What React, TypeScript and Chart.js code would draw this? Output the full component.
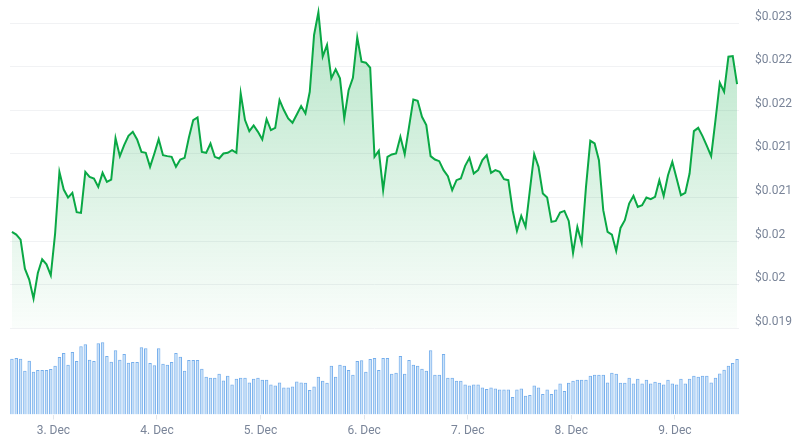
import React, { useEffect, useRef } from "react";
import { Chart, registerables } from "chart.js";

Chart.register(...registerables);

// hours relative to 3 Dec 00:00 of first data point (hourly data)
const startHour = -9.6;
const dayLabels = ["3. Dec", "4. Dec", "5. Dec", "6. Dec", "7. Dec", "8. Dec", "9. Dec"];
const priceTicks = [0.019, 0.0195, 0.02, 0.0205, 0.021, 0.0215, 0.022, 0.0225];
const priceTickLabels = ["$0.019", "$0.02", "$0.02", "$0.021", "$0.021", "$0.022", "$0.022", "$0.023"];

const prices = [
  0.020105, 0.020074, 0.020016, 0.019683, 0.019557, 0.019338, 0.019633, 0.01979, 0.019733, 0.019606,
  0.020085, 0.020794, 0.020591, 0.020499, 0.020553, 0.020331, 0.020323, 0.020794, 0.020737, 0.020718,
  0.020622, 0.020783, 0.02068, 0.020706, 0.021182, 0.020975, 0.021101, 0.021208, 0.021254, 0.021166,
  0.021024, 0.021013, 0.020852, 0.021005, 0.02117, 0.020986, 0.020975, 0.020967, 0.020852, 0.020936,
  0.020955, 0.021189, 0.021389, 0.021419, 0.021024, 0.021013, 0.02112, 0.020967, 0.020948, 0.021005,
  0.021013, 0.021044, 0.021013, 0.021695, 0.021389, 0.021262, 0.021327, 0.021254, 0.021166, 0.0214,
  0.021274, 0.0213, 0.021618, 0.021504, 0.021408, 0.021358, 0.021454, 0.02155, 0.021465, 0.021714,
  0.022366, 0.022626, 0.022117, 0.022251, 0.021868, 0.021971, 0.021868, 0.021408, 0.021733, 0.021875,
  0.022339, 0.022059, 0.022048, 0.02199, 0.020967, 0.021036, 0.020584, 0.020967, 0.020994, 0.021005,
  0.021197, 0.020998, 0.021312, 0.021626, 0.021611, 0.021427, 0.021331, 0.020975, 0.020936, 0.020917,
  0.020814, 0.020745, 0.020584, 0.020699, 0.020718, 0.020863, 0.020955, 0.020775, 0.020814, 0.020929,
  0.020986, 0.020783, 0.020814, 0.020794, 0.02071, 0.020699, 0.020354, 0.020116, 0.020289, 0.020162,
  0.020584, 0.020998, 0.020852, 0.020545, 0.020499, 0.02022, 0.020231, 0.020327, 0.020346, 0.020231,
  0.019863, 0.020162, 0.019978, 0.020622, 0.021151, 0.02112, 0.020929, 0.020354, 0.020105, 0.020074,
  0.019886, 0.020151, 0.020239, 0.02043, 0.020518, 0.020392, 0.020411, 0.020499, 0.02048, 0.020507,
  0.020699, 0.020518, 0.020756, 0.020909, 0.020718, 0.020526, 0.020553, 0.020775, 0.021262, 0.0213,
  0.021205, 0.021093, 0.020975, 0.021389, 0.021818, 0.021714, 0.022117, 0.022124, 0.021802,
];

// volume, millions USD
const volumes = [
  16.7, 16.9, 16.7, 13.1, 16.1, 12.8, 13.3, 13.3, 13.3, 13.6,
  14.6, 17.2, 18.4, 14.9, 18.7, 16.0, 20.4, 21.0, 16.4, 16.0,
  21.3, 21.6, 17.5, 15.8, 19.2, 16.4, 18.1, 15.5, 15.7, 15.7,
  20.1, 19.8, 15.4, 14.7, 19.8, 15.2, 14.9, 15.7, 18.4, 17.3,
  13.1, 16.3, 16.3, 16.3, 13.7, 11.3, 11.0, 11.0, 12.2, 10.2,
  11.6, 9.0, 10.7, 11.0, 11.0, 9.6, 10.7, 11.0, 10.4, 10.4,
  9.0, 8.7, 9.6, 8.1, 8.1, 8.4, 9.9, 9.6, 9.5, 7.3,
  8.4, 11.3, 10.1, 9.5, 14.6, 11.3, 14.9, 14.6, 13.3, 11.9,
  16.0, 16.2, 12.8, 16.6, 16.9, 13.3, 16.9, 16.9, 12.2, 12.5,
  17.5, 12.2, 16.3, 14.9, 14.6, 13.7, 13.1, 19.2, 11.9, 11.9,
  18.1, 11.0, 11.0, 10.1, 10.1, 9.0, 8.7, 9.0, 9.0, 8.1,
  7.6, 8.1, 7.8, 7.5, 7.5, 7.5, 5.2, 7.5, 7.8, 5.6,
  5.8, 8.7, 8.1, 6.1, 7.5, 6.1, 7.5, 9.3, 7.0, 9.5,
  10.1, 10.4, 10.4, 10.4, 11.6, 11.9, 11.9, 11.9, 9.6, 12.5,
  12.2, 9.5, 9.5, 11.0, 9.3, 10.7, 9.3, 10.4, 9.3, 9.8,
  9.5, 9.0, 10.4, 9.3, 9.0, 10.7, 9.3, 10.7, 11.6, 11.3,
  11.6, 11.6, 9.6, 11.0, 12.3, 13.4, 14.6, 15.4, 16.6,
];

const zeroPad = (s: any) => {
  s.paddingTop = 0;
  s.paddingBottom = 0;
  s.paddingLeft = 0;
  s.paddingRight = 0;
};

export default function App() {
  const ref = useRef<HTMLCanvasElement | null>(null);

  useEffect(() => {
    document.body.style.margin = "0";
    const canvas = ref.current;
    if (!canvas) return;

    const chart = new Chart(canvas, {
      type: "bar",
      data: {
        datasets: [
          {
            type: "line",
            label: "Price",
            data: prices.map((p, i) => ({ x: startHour + i, y: p })),
            yAxisID: "y",
            borderColor: "#0aa845",
            borderWidth: 2,
            pointRadius: 0,
            tension: 0,
            order: 1,
            fill: { value: 0.019 },
            backgroundColor: (ctx: any) => {
              const c = ctx.chart;
              const area = c.chartArea;
              if (!area) return "rgba(10,168,69,0.15)";
              const yb = c.scales.y.getPixelForValue(0.019);
              const g = c.ctx.createLinearGradient(0, area.top, 0, yb);
              g.addColorStop(0, "rgba(10,168,69,0.30)");
              g.addColorStop(1, "rgba(10,168,69,0.02)");
              return g;
            },
          } as any,
          {
            type: "bar",
            label: "Volume",
            data: volumes.map((v, i) => ({ x: startHour + i, y: v })),
            yAxisID: "y2",
            backgroundColor: "rgba(140,190,240,0.45)",
            borderColor: "rgba(110,170,235,0.95)",
            borderWidth: 1,
            barPercentage: 1,
            categoryPercentage: 0.8,
            order: 2,
          } as any,
        ],
      },
      options: {
        responsive: false,
        animation: false,
        devicePixelRatio: 1,
        layout: { padding: { left: 10, right: 0, top: 0, bottom: 0 } },
        plugins: {
          legend: { display: false },
          tooltip: { enabled: false },
        },
        scales: {
          x: {
            type: "linear",
            offset: false,
            bounds: "data",
            min: startHour - 0.45,
            max: startHour + prices.length - 1 + 0.45,
            afterBuildTicks: (s: any) => {
              s.ticks = dayLabels.map((_, k) => ({ value: k * 24 }));
            },
            afterFit: (s: any) => {
              s.height = 30.5;
              zeroPad(s);
            },
            grid: {
              offset: false,
              drawOnChartArea: false,
              drawTicks: true,
              tickLength: 5,
              color: "#e3e6ea",
            },
            border: { display: false },
            ticks: {
              autoSkip: false,
              maxRotation: 0,
              padding: 4,
              color: "#7a8599",
              font: { family: "Roboto", size: 12 },
              callback: (_v: any, i: number) => dayLabels[i],
            },
          },
          y: {
            type: "linear",
            position: "right",
            min: 0.018008,
            max: 0.022768,
            afterBuildTicks: (s: any) => {
              s.ticks = priceTicks.map((v) => ({ value: v }));
            },
            afterFit: (s: any) => {
              s.width = 61;
              zeroPad(s);
            },
            grid: { color: "#f1f2f4", drawTicks: false, lineWidth: 1 },
            border: { display: false },
            ticks: {
              padding: 16,
              labelOffset: -6.5,
              color: "#7a8599",
              font: { family: "Roboto", size: 12 },
              callback: (_v: any, i: number) => priceTickLabels[i],
            },
          },
          y2: {
            type: "linear",
            display: false,
            min: 0,
            max: 124,
          },
        },
      },
    });

    return () => chart.destroy();
  }, []);

  return (
    <div style={{ position: "fixed", left: 0, top: 0, width: 800, height: 445, background: "#fff" }}>
      <canvas ref={ref} width={800} height={445} style={{ width: 800, height: 445, display: "block" }} />
    </div>
  );
}
